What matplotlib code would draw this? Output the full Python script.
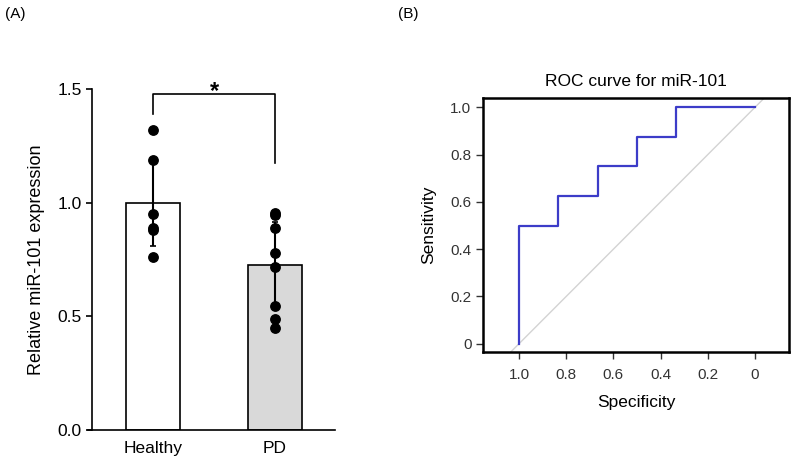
import matplotlib.pyplot as plt

plt.rcParams['font.family'] = ['Liberation Sans', 'DejaVu Sans']

# panel A data
groups = ['Healthy', 'PD']
means = [1.0, 0.725]
sds = [0.19, 0.19]
healthy_pts = [1.32, 1.19, 0.95, 0.89, 0.88, 0.76]
pd_pts = [0.956, 0.946, 0.89, 0.78, 0.716, 0.547, 0.488, 0.45]
bar_colors = ['white', '#d9d9d9']

# panel B data (ROC)
spec = [1.0, 1.0, 0.833, 0.833, 0.667, 0.667, 0.5, 0.5, 0.333, 0.333, 0.0]
sens = [0.0, 0.5, 0.5, 0.625, 0.625, 0.75, 0.75, 0.875, 0.875, 1.0, 1.0]
roc_ticks = [1.0, 0.8, 0.6, 0.4, 0.2, 0.0]
roc_ticklabels = ['1.0', '0.8', '0.6', '0.4', '0.2', '0']
sens_ticks = [0, 0.2, 0.4, 0.6, 0.8, 1.0]
sens_ticklabels = ['0', '0.2', '0.4', '0.6', '0.8', '1.0']

fig = plt.figure(figsize=(7.94, 4.63), dpi=100)
W, H = 794, 463

# ---- panel A ----
ax = fig.add_axes([88 / W, (H - 430) / H, 247 / W, (430 - 89.3) / H])
xs = [0, 1]
ax.bar(xs, means, width=0.443, color=bar_colors, edgecolor='black', linewidth=1.2, zorder=1)
ax.errorbar(xs, means, yerr=sds, fmt='none', ecolor='black', elinewidth=1.5,
            capsize=2.5, capthick=1.2, zorder=2)
ax.scatter([0] * len(healthy_pts), healthy_pts, s=46, color='black', zorder=3)
ax.scatter([1] * len(pd_pts), pd_pts, s=46, color='black', zorder=3)

# significance bracket
ax.plot([0, 0, 1, 1], [1.39, 1.48, 1.48, 1.175], color='black', lw=1.2, clip_on=False)
ax.text(0.5, 1.46, '*', ha='center', va='baseline', fontsize=17, fontweight='bold')

ax.set_xlim(-0.533, 1.492)
ax.set_ylim(0, 1.5)
ax.set_yticks([0.0, 0.5, 1.0, 1.5])
ax.set_yticklabels(['0.0', '0.5', '1.0', '1.5'])
ax.set_xticks(xs)
ax.set_xticklabels(groups)
ax.tick_params(axis='x', length=0, labelsize=12.5, pad=8)
ax.tick_params(axis='y', direction='out', length=4, width=1.2, labelsize=12.5)
ax.spines['top'].set_visible(False)
ax.spines['right'].set_visible(False)
ax.spines['left'].set_position(('axes', 4 / 247))
ax.spines['left'].set_linewidth(1.2)
ax.spines['bottom'].set_linewidth(1.2)
ax.set_ylabel('Relative miR-101 expression', fontsize=13, labelpad=9)

fig.text(5 / W, 1 - 14 / H, '(A)', fontsize=11, va='center', ha='left')
fig.text(398 / W, 1 - 14 / H, '(B)', fontsize=11, va='center', ha='left')

# ---- panel B ----
bx = fig.add_axes([483.3 / W, (H - 352.3) / H, (789 - 483.3) / W, (352.3 - 98.3) / H])
bx.axline((1, 0), (0, 1), color='#d3d3d3', lw=1)
bx.plot(spec, sens, color='#3c3cc8', lw=1.6)
bx.set_xlim(1.151, -0.144)
bx.set_ylim(-0.036, 1.038)
bx.set_xticks(roc_ticks)
bx.set_xticklabels(roc_ticklabels)
bx.set_yticks(sens_ticks)
bx.set_yticklabels(sens_ticklabels)
bx.tick_params(direction='out', length=5, width=1, labelsize=11, colors='#333333',
               labelcolor='#333333')
bx.tick_params(axis='x', pad=6)
for s in bx.spines.values():
    s.set_linewidth(1.8)
bx.set_title('ROC curve for miR-101', fontsize=12.5, pad=9)
bx.set_xlabel('Specificity', fontsize=12.5, labelpad=10)
bx.set_ylabel('Sensitivity', fontsize=12.5, labelpad=10)

fig.savefig('out.png', dpi=100)
